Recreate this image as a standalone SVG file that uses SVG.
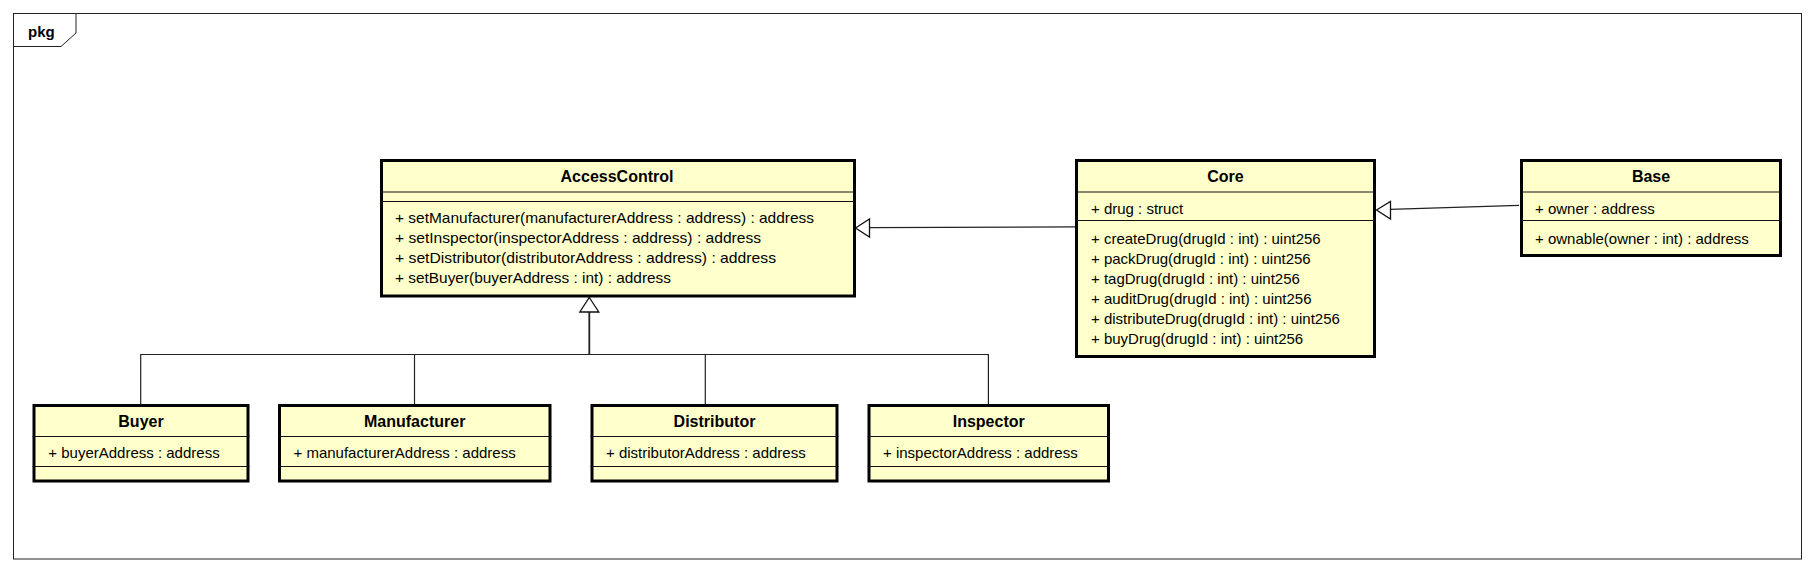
<svg xmlns="http://www.w3.org/2000/svg" width="1816" height="572" viewBox="0 0 1816 572">
<style>
.frame{fill:none;stroke:#222;stroke-width:1}
.box{fill:#ffffcc;stroke:#000;stroke-width:3}
.sep{stroke:#111;stroke-width:1;fill:none}
.t{font-family:"Liberation Sans",Arial,sans-serif;font-size:16px;font-weight:bold;fill:#000;text-anchor:middle}
.m{font-family:"Liberation Sans",Arial,sans-serif;font-size:15px;fill:#000}
.pkg{font-family:"Liberation Sans",Arial,sans-serif;font-size:15px;font-weight:bold;fill:#000}
.edge{stroke:#222;stroke-width:1.2;fill:none}
.tri{fill:#fff;stroke:#111;stroke-width:1.3}
</style>
<rect width="1816" height="572" fill="#fff"/>
<g id="frame">
<rect class="frame" x="13.5" y="13.5" width="1788" height="545.5"/>
<path class="frame" d="M13.5,46.5 H61 L76,33 V13.5"/>
<text class="pkg" x="28" y="37">pkg</text>
</g>
<g id="connectors">
<path class="edge" d="M1076,226.8 L869,227.7"/>
<path class="tri" d="M855.5,228 L869.5,219 L869.5,237 Z"/>
<path class="edge" d="M1519,205.3 L1390,209.4"/>
<path class="tri" d="M1376.5,210 L1390.5,201.5 L1390.5,219 Z"/>
<path class="edge" style="stroke-width:1.8" d="M589.3,312 V354.5"/>
<path class="tri" d="M589.3,297.5 L598.8,312 L579.8,312 Z"/>
<path class="edge" d="M140.7,404 V354.5 H988.4 V404"/>
<path class="edge" d="M414.5,354.5 V404"/>
<path class="edge" d="M705.3,354.5 V404"/>
</g>
<g id="AccessControl">
<rect class="box" x="381.5" y="160.5" width="473" height="135.5"/>
<line class="sep" x1="380" y1="192" x2="856" y2="192"/>
<line class="sep" x1="380" y1="201.5" x2="856" y2="201.5"/>
<text class="t" x="617" y="182">AccessControl</text>
<text class="m" x="395" y="223.3" textLength="419" lengthAdjust="spacingAndGlyphs">+ setManufacturer(manufacturerAddress : address) : address</text>
<text class="m" x="395" y="243.3" textLength="366" lengthAdjust="spacingAndGlyphs">+ setInspector(inspectorAddress : address) : address</text>
<text class="m" x="395" y="263.3" textLength="381" lengthAdjust="spacingAndGlyphs">+ setDistributor(distributorAddress : address) : address</text>
<text class="m" x="395" y="283.3" textLength="276" lengthAdjust="spacingAndGlyphs">+ setBuyer(buyerAddress : int) : address</text>
</g>
<g id="Core">
<rect class="box" x="1076.5" y="160.5" width="298" height="196"/>
<line class="sep" x1="1075" y1="192" x2="1376" y2="192"/>
<line class="sep" x1="1075" y1="220.5" x2="1376" y2="220.5"/>
<text class="t" x="1225.5" y="182">Core</text>
<text class="m" x="1091" y="214">+ drug : struct</text>
<text class="m" x="1091" y="244">+ createDrug(drugId : int) : uint256</text>
<text class="m" x="1091" y="264">+ packDrug(drugId : int) : uint256</text>
<text class="m" x="1091" y="284">+ tagDrug(drugId : int) : uint256</text>
<text class="m" x="1091" y="304">+ auditDrug(drugId : int) : uint256</text>
<text class="m" x="1091" y="324">+ distributeDrug(drugId : int) : uint256</text>
<text class="m" x="1091" y="344">+ buyDrug(drugId : int) : uint256</text>
</g>
<g id="Base">
<rect class="box" x="1521.5" y="160.5" width="259" height="95"/>
<line class="sep" x1="1520" y1="192" x2="1782" y2="192"/>
<line class="sep" x1="1520" y1="220.5" x2="1782" y2="220.5"/>
<text class="t" x="1651" y="182">Base</text>
<text class="m" x="1535" y="214">+ owner : address</text>
<text class="m" x="1535" y="244">+ ownable(owner : int) : address</text>
</g>
<g id="Buyer">
<rect class="box" x="34" y="405.5" width="214" height="75.5"/>
<line class="sep" x1="32.5" y1="436.5" x2="249.5" y2="436.5"/>
<line class="sep" x1="32.5" y1="466.5" x2="249.5" y2="466.5"/>
<text class="t" x="141" y="427.3">Buyer</text>
<text class="m" x="48.3" y="458.3">+ buyerAddress : address</text>
</g>
<g id="Manufacturer">
<rect class="box" x="279.5" y="405.5" width="270.5" height="75.5"/>
<line class="sep" x1="278" y1="436.5" x2="551.5" y2="436.5"/>
<line class="sep" x1="278" y1="466.5" x2="551.5" y2="466.5"/>
<text class="t" x="414.7" y="427.3">Manufacturer</text>
<text class="m" x="293.5" y="458.3">+ manufacturerAddress : address</text>
</g>
<g id="Distributor">
<rect class="box" x="592" y="405.5" width="245" height="75.5"/>
<line class="sep" x1="590.5" y1="436.5" x2="838.5" y2="436.5"/>
<line class="sep" x1="590.5" y1="466.5" x2="838.5" y2="466.5"/>
<text class="t" x="714.5" y="427.3">Distributor</text>
<text class="m" x="606" y="458.3">+ distributorAddress : address</text>
</g>
<g id="Inspector">
<rect class="box" x="869" y="405.5" width="239.5" height="75.5"/>
<line class="sep" x1="867.5" y1="436.5" x2="1110" y2="436.5"/>
<line class="sep" x1="867.5" y1="466.5" x2="1110" y2="466.5"/>
<text class="t" x="988.7" y="427.3">Inspector</text>
<text class="m" x="883" y="458.3">+ inspectorAddress : address</text>
</g>
</svg>
